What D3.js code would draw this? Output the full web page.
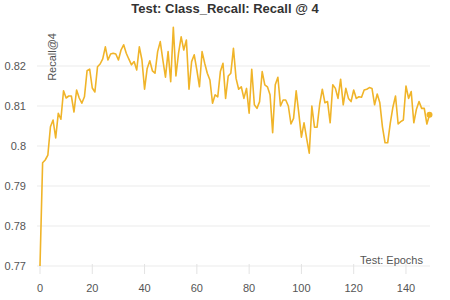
<!DOCTYPE html>
<html>
<head>
<meta charset="utf-8">
<script src="https://cdn.jsdelivr.net/npm/d3@7"></script>
<style>
html,body{margin:0;padding:0;background:#fff;}
svg{display:block;font-family:"Liberation Sans",Arial,Helvetica,sans-serif;}
</style>
</head>
<body>
<svg id="chart" width="450" height="300"></svg>
<script>
const title = "Test: Class_Recall: Recall @ 4";
const yLabel = "Recall@4";
const xLabel = "Test: Epochs";
const xTicks = [0, 20, 40, 60, 80, 100, 120, 140];
const yTicks = [0.77, 0.78, 0.79, 0.80, 0.81, 0.82];
const recall = [
  0.7700, 0.7958, 0.7965, 0.7977, 0.8048, 0.8065, 0.8020, 0.8082, 0.8067, 0.8138,
  0.8120, 0.8125, 0.8125, 0.8085, 0.8140, 0.8120, 0.8107, 0.8123, 0.8188, 0.8192,
  0.8145, 0.8135, 0.8198, 0.8205, 0.8218, 0.8248, 0.8215, 0.8230, 0.8232, 0.8230,
  0.8215, 0.8240, 0.8253, 0.8232, 0.8217, 0.8203, 0.8211, 0.8190, 0.8248, 0.8215,
  0.8142, 0.8194, 0.8213, 0.8188, 0.8182, 0.8236, 0.8261, 0.8215, 0.8172, 0.8236,
  0.8161, 0.8297, 0.8175, 0.8232, 0.8273, 0.8240, 0.8265, 0.8142, 0.8211, 0.8228,
  0.8190, 0.8148, 0.8236, 0.8207, 0.8182, 0.8165, 0.8107, 0.8128, 0.8123, 0.8186,
  0.8207, 0.8119, 0.8175, 0.8182, 0.8244, 0.8169, 0.8142, 0.8148, 0.8119, 0.8144,
  0.8082, 0.8192, 0.8103, 0.8094, 0.8111, 0.8186, 0.8153, 0.8148, 0.8128, 0.8033,
  0.8153, 0.8172, 0.8100, 0.8115, 0.8115, 0.8100, 0.8055, 0.8069, 0.8138, 0.8082,
  0.8022, 0.8058, 0.8019, 0.7982, 0.8100, 0.8047, 0.8047, 0.8105, 0.8142, 0.8108,
  0.8111, 0.8058, 0.8153, 0.8144, 0.8119, 0.8167, 0.8103, 0.8144, 0.8119, 0.8111,
  0.8140, 0.8119, 0.8123, 0.8122, 0.8140, 0.8142, 0.8146, 0.8144, 0.8103, 0.8130,
  0.8108, 0.8048, 0.8008, 0.8008, 0.8057, 0.8097, 0.8125, 0.8055, 0.8061, 0.8065,
  0.8150, 0.8119, 0.8136, 0.8058, 0.8092, 0.8111, 0.8094, 0.8094, 0.8055, 0.8078
];
const epochs = recall.map((_, i) => i);

const svg = d3.select("#chart");
const x = d3.scaleLinear().domain([0, 149]).range([40, 429.5]);
const y = d3.scaleLinear().domain([0.77, 0.83]).range([266, 26]);

// horizontal grid
svg.append("g").selectAll("line").data(yTicks).join("line")
  .attr("x1", 37).attr("x2", 430)
  .attr("y1", d => y(d)).attr("y2", d => y(d))
  .attr("stroke", "#ebebeb").attr("stroke-width", 1);

// y tick labels
svg.append("g").selectAll("text").data(yTicks).join("text")
  .attr("x", 26).attr("y", d => y(d) + 4)
  .attr("text-anchor", "end")
  .attr("font-size", 11).attr("fill", "#555")
  .text(d => d3.format("~g")(d));

// x ticks
svg.append("g").selectAll("line").data(xTicks).join("line")
  .attr("x1", d => x(d)).attr("x2", d => x(d))
  .attr("y1", 264).attr("y2", 274)
  .attr("stroke", "#e3e3e3").attr("stroke-width", 1);

svg.append("g").selectAll("text").data(xTicks).join("text")
  .attr("x", d => x(d)).attr("y", 292)
  .attr("text-anchor", "middle")
  .attr("font-size", 11).attr("fill", "#555")
  .text(d => d);

// line
const line = d3.line().x((d, i) => x(epochs[i])).y(d => y(d));
svg.append("path").datum(recall)
  .attr("fill", "none")
  .attr("stroke", "#f0b429")
  .attr("stroke-width", 1.6)
  .attr("stroke-linejoin", "round")
  .attr("d", line);

svg.append("circle")
  .attr("cx", x(epochs[epochs.length - 1]))
  .attr("cy", y(recall[recall.length - 1]))
  .attr("r", 3).attr("fill", "#f0b429");

// labels
svg.append("text")
  .attr("x", 225).attr("y", 13)
  .attr("text-anchor", "middle")
  .attr("font-size", 13).attr("font-weight", "bold").attr("fill", "#333")
  .text(title);

svg.append("text")
  .attr("transform", "translate(56,33) rotate(-90)")
  .attr("text-anchor", "end")
  .attr("font-size", 11).attr("fill", "#555")
  .text(yLabel);

svg.append("text")
  .attr("x", 423).attr("y", 264)
  .attr("text-anchor", "end")
  .attr("font-size", 11).attr("fill", "#555")
  .text(xLabel);
</script>
</body>
</html>
